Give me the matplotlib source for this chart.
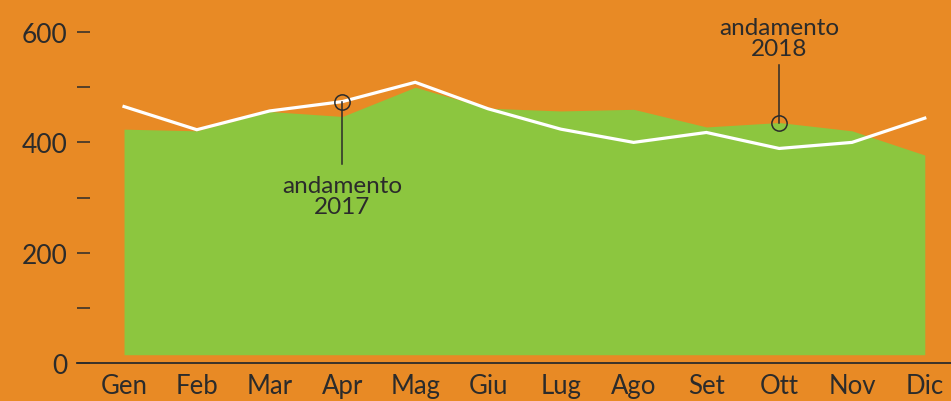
import matplotlib
matplotlib.use("Agg")
import matplotlib.pyplot as plt
import numpy as np

months = ["Gen", "Feb", "Mar", "Apr", "Mag", "Giu", "Lug", "Ago", "Set", "Ott", "Nov", "Dic"]
andamento_2017 = [465, 423, 457, 474, 509, 461, 424, 400, 418, 389, 400, 444]
andamento_2018 = [424, 421, 456, 447, 500, 462, 457, 460, 428, 436, 421, 377]
area_base = 15
yticks = [0, 100, 200, 300, 400, 500, 600]
ytick_labels = ["0", "", "200", "", "400", "", "600"]

ORANGE = "#E88A25"
GREEN = "#8CC63F"
DARK = "#2b2b2b"

plt.rcParams['font.family'] = ['Lato', 'DejaVu Sans']
plt.rcParams['font.weight'] = 'normal'

fig = plt.figure(figsize=(9.51, 4.02), dpi=100, facecolor=ORANGE)
ax = fig.add_axes([77/951, 38/402, 1 - 77/951, 1 - 38/402])
ax.set_facecolor(ORANGE)

x = np.arange(len(months))
ax.fill_between(x, area_base, andamento_2018, color=GREEN, linewidth=0, zorder=1)
ax.plot(x, andamento_2017, color="white", linewidth=2.3, zorder=2, solid_joinstyle="miter")

ax.set_xlim(-0.646, 11.36)
ax.set_ylim(0, 660)

for s in ["top", "right", "left"]:
    ax.spines[s].set_visible(False)
ax.spines["bottom"].set_color(DARK)
ax.spines["bottom"].set_linewidth(1.3)

ax.set_yticks(yticks)
ax.set_yticklabels(ytick_labels)
ax.tick_params(axis="y", direction="in", length=9.4, width=1.1, color=DARK,
               pad=7, labelsize=19, labelcolor=DARK)
ax.set_xticks(x)
ax.set_xticklabels(months)
ax.tick_params(axis="x", length=0, pad=7, labelsize=18.5, labelcolor=DARK)

# annotations
i17 = 3
ax.plot([i17], [andamento_2017[i17]], marker="o", markersize=11, markerfacecolor="none",
        markeredgecolor=DARK, markeredgewidth=1.1, zorder=3)
ax.plot([i17, i17], [andamento_2017[i17], 360], color=DARK, linewidth=1.1, zorder=3)
ax.text(i17, 340, "andamento\n2017", ha="center", va="top", fontsize=17.5, color=DARK,
        linespacing=1.0)

i18 = 9
ax.plot([i18], [andamento_2018[i18]], marker="o", markersize=11, markerfacecolor="none",
        markeredgecolor=DARK, markeredgewidth=1.1, zorder=3)
ax.plot([i18, i18], [andamento_2018[i18], 540], color=DARK, linewidth=1.1, zorder=3)
ax.text(i18, 552, "andamento\n2018", ha="center", va="bottom", fontsize=17.5, color=DARK,
        linespacing=1.0)

fig.savefig("out.png", dpi=100, facecolor=ORANGE)
